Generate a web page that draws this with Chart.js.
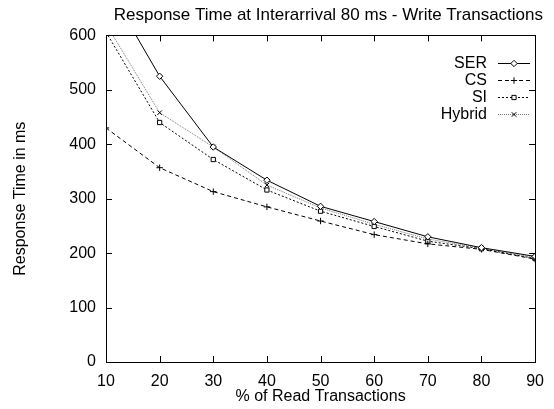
<!DOCTYPE html>
<html>
<head>
<meta charset="utf-8">
<script src="https://cdn.jsdelivr.net/npm/chart.js@4.4.0/dist/chart.umd.min.js"></script>
<style>
  html, body { margin: 0; padding: 0; background: #fff; }
  #wrap { width: 554px; height: 409px; }
</style>
</head>
<body>
<div id="wrap"><canvas id="rtChart" width="554" height="409"></canvas></div>
<script>
// Response time data
const readPercent = [10, 20, 30, 40, 50, 60, 70, 80, 90];
const serTimes = [695, 525, 395, 334, 286, 258, 230, 210, 194];
const csTimes = [430, 357, 313, 285, 259, 234, 217, 207, 189];
const siTimes = [606, 440, 372, 316, 277, 249, 222, 208, 190];
const hybridTimes = [621, 458, 395, 325, 283, 253, 226, 209, 192];
const yTicks = [0, 100, 200, 300, 400, 500, 600];

const FONT = 'Liberation Sans, Arial, Helvetica, sans-serif';

function toPoints(values) {
  return readPercent.map((x, i) => ({ x: x, y: values[i] }));
}

// gnuplot style frame with inward ticks on all four sides
const framePlugin = {
  id: 'frame',
  afterDatasetsDraw(chart) {
    const { ctx, chartArea: a, scales } = chart;
    const len = 6;
    ctx.save();
    ctx.strokeStyle = '#000';
    ctx.lineWidth = 1;
    ctx.beginPath();
    scales.x.ticks.forEach(t => {
      const px = Math.round(scales.x.getPixelForValue(t.value)) + 0.5;
      ctx.moveTo(px, a.bottom); ctx.lineTo(px, a.bottom - len);
      ctx.moveTo(px, a.top); ctx.lineTo(px, a.top + len);
    });
    scales.y.ticks.forEach(t => {
      const py = Math.round(scales.y.getPixelForValue(t.value)) + 0.5;
      ctx.moveTo(a.left, py); ctx.lineTo(a.left + len, py);
      ctx.moveTo(a.right, py); ctx.lineTo(a.right - len, py);
    });
    ctx.stroke();
    ctx.strokeRect(Math.round(a.left) + 0.5, Math.round(a.top) + 0.5,
      Math.round(a.right - a.left), Math.round(a.bottom - a.top));
    ctx.restore();
  }
};

// legend: right aligned label followed by line sample, inside top right
const keyPlugin = {
  id: 'key',
  afterDraw(chart) {
    const ctx = chart.ctx;
    const textRight = 487, x0 = 498, x1 = 530;
    const rows = [63, 80, 97, 114];
    ctx.save();
    ctx.font = '16px ' + FONT;
    ctx.textAlign = 'right';
    ctx.textBaseline = 'middle';
    chart.data.datasets.forEach((ds, i) => {
      const y = rows[i];
      ctx.fillStyle = '#000';
      ctx.fillText(ds.label, textRight, y + 1);
      ctx.strokeStyle = ds.borderColor;
      ctx.lineWidth = ds.borderWidth;
      ctx.setLineDash(ds.borderDash || []);
      ctx.beginPath();
      ctx.moveTo(x0, y + 0.5);
      ctx.lineTo(x1, y + 0.5);
      ctx.stroke();
      ctx.setLineDash([]);
      ctx.fillStyle = ds.pointBackgroundColor;
      ctx.strokeStyle = ds.pointBorderColor;
      ctx.lineWidth = 1;
      Chart.helpers.drawPoint(ctx, {
        pointStyle: ds.pointStyle, radius: ds.pointRadius, borderWidth: 1
      }, (x0 + x1) / 2, y + 0.5);
    });
    ctx.restore();
  }
};

function series(label, values, dash, style, color) {
  return {
    label: label,
    data: toPoints(values),
    borderColor: color,
    borderWidth: 1,
    borderDash: dash,
    pointStyle: style,
    pointRadius: style === 'rect' ? 3 : 3.2,
    pointBorderColor: '#000',
    pointBackgroundColor: '#fff',
    pointBorderWidth: 1,
    tension: 0
  };
}

new Chart(document.getElementById('rtChart'), {
  type: 'line',
  data: {
    datasets: [
      series('SER', serTimes, [], 'rectRot', '#000'),
      series('CS', csTimes, [4, 3], 'cross', '#000'),
      series('SI', siTimes, [2, 2], 'rect', '#000'),
      series('Hybrid', hybridTimes, [1, 1], 'crossRot', '#777')
    ]
  },
  options: {
    responsive: false,
    animation: false,
    layout: { padding: { left: 0, right: 11, top: 0, bottom: 0 } },
    plugins: {
      legend: { display: false },
      tooltip: { enabled: false },
      title: {
        display: true,
        align: 'end',
        text: 'Response Time at Interarrival 80 ms - Write Transactions',
        color: '#000',
        font: { family: FONT, size: 17, weight: 'normal' },
        padding: { top: 5, bottom: 10 }
      }
    },
    scales: {
      x: {
        type: 'linear',
        min: 10,
        max: 90,
        grid: { display: false, drawTicks: false },
        border: { display: false },
        ticks: {
          stepSize: 10,
          padding: 10,
          color: '#000',
          maxRotation: 0,
          font: { family: FONT, size: 16 }
        },
        title: {
          display: true,
          text: '% of Read Transactions',
          color: '#000',
          font: { family: FONT, size: 16 },
          padding: { top: 0, bottom: 3 }
        },
        afterFit(scale) { scale.height = 47; }
      },
      y: {
        min: 0,
        max: 600,
        grid: { display: false, drawTicks: false },
        border: { display: false },
        afterBuildTicks(scale) {
          scale.ticks = yTicks.map(v => ({ value: v }));
        },
        ticks: {
          padding: 10,
          color: '#000',
          font: { family: FONT, size: 16 }
        },
        title: {
          display: true,
          text: 'Response Time in ms',
          color: '#000',
          font: { family: FONT, size: 16 },
          padding: { top: 11, bottom: 0 }
        },
        afterFit(scale) { scale.width = 106; }
      }
    }
  },
  plugins: [framePlugin, keyPlugin]
});
</script>
</body>
</html>
